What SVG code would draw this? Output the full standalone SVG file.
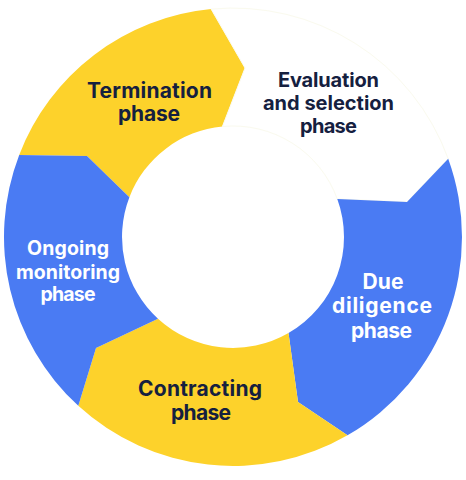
<svg xmlns="http://www.w3.org/2000/svg" width="466" height="480" viewBox="0 0 466 480">
<style>
.y{fill:#FDD22B}
.b{fill:#4A7BF3}
.w{fill:#FFFFFF;stroke:#FAFAEE;stroke-width:1}
text{font-family:Inter,"Open Sans","Liberation Sans",sans-serif;font-weight:700;font-size:21px;text-anchor:middle}
.dk{fill:#15203F}
.lt{fill:#FFFFFF}
.s20{font-size:20px}
.s19{font-size:19.5px}
</style>
<rect width="466" height="480" fill="#FFFFFF"/>
<g id="termination">
<path class="y" d="M 19.2 154.9 A 229 229 0 0 1 211.1 9.1 L 245 68 L 222.4 126.5 A 111 111 0 0 0 129.4 197.2 L 87 156 Z"/>
<text class="dk" x="149.5" y="98" textLength="125">Termination</text>
<text class="dk" x="149" y="121" textLength="62">phase</text>
</g>
<g id="evaluation">
<path class="w" d="M 211.1 9.1 A 229 229 0 0 1 448.2 158.7 L 407 202 L 337.3 199 A 111 111 0 0 0 222.4 126.5 L 245 68 Z"/>
<text class="dk s20" x="328.5" y="87" textLength="101">Evaluation</text>
<text class="dk s20" x="328.5" y="110" textLength="131">and selection</text>
<text class="dk s20" x="328.5" y="133" textLength="57">phase</text>
</g>
<g id="due-diligence">
<path class="b" d="M 448.2 158.7 A 229 229 0 0 1 347.5 435.3 L 298 402 L 288.5 333.1 A 111 111 0 0 0 337.3 199 L 407 202 Z"/>
<text class="lt" x="383" y="289" textLength="41">Due</text>
<text class="lt" x="382" y="313" textLength="100">diligence</text>
<text class="lt" x="381.5" y="338" textLength="61">phase</text>
</g>
<g id="contracting">
<path class="y" d="M 347.5 435.3 A 229 229 0 0 1 78.3 405.8 L 96 348 L 158 318.8 A 111 111 0 0 0 288.5 333.1 L 298 402 Z"/>
<text class="dk" x="200" y="396" textLength="124">Contracting</text>
<text class="dk" x="201" y="420" textLength="60">phase</text>
</g>
<g id="ongoing-monitoring">
<path class="b" d="M 78.3 405.8 A 229 229 0 0 1 19.2 154.9 L 87 156 L 129.4 197.2 A 111 111 0 0 0 158 318.8 L 96 348 Z"/>
<text class="lt s19" x="68" y="255" textLength="82">Ongoing</text>
<text class="lt s19" x="68" y="279" textLength="104">monitoring</text>
<text class="lt s19" x="68" y="301" textLength="55">phase</text>
</g>
<g id="connectors"></g>
</svg>
